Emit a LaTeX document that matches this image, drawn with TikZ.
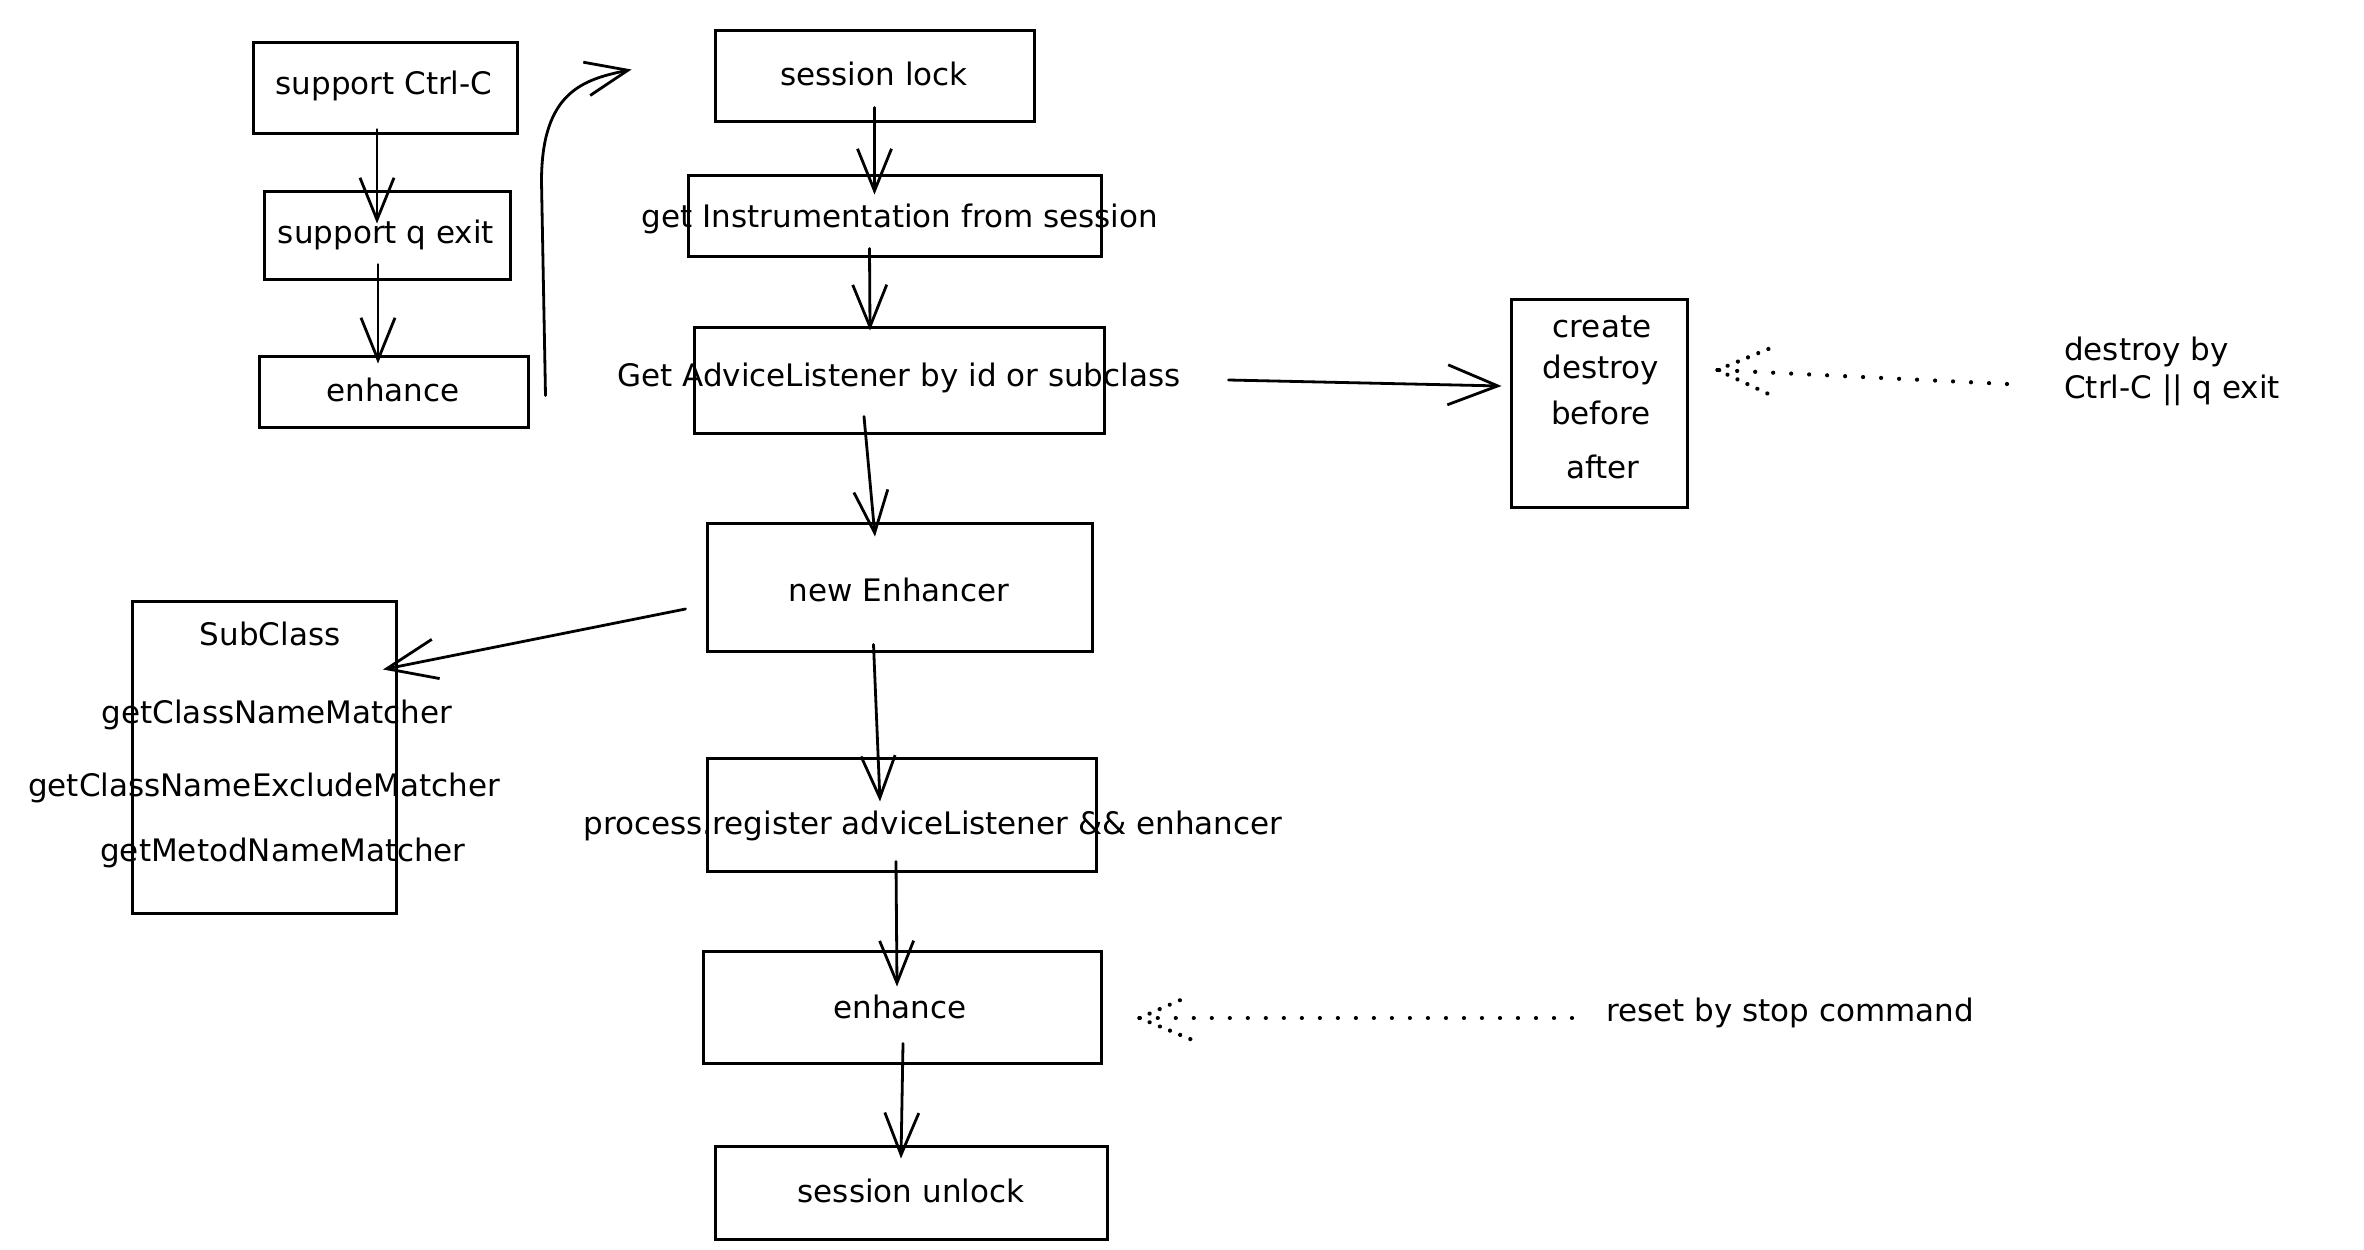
\documentclass[tikz,border=0pt]{standalone}
\usepackage{fontspec}
\setmainfont{DejaVu Sans}
\usetikzlibrary{arrows.meta,calc}
\begin{document}
\begin{tikzpicture}[x=1pt,y=-1pt,
  box/.style={draw, line width=3pt, inner sep=0pt, rectangle},
  lbl/.style={font=\fontsize{31}{38}\selectfont, inner sep=0pt, anchor=center},
  arr/.style={line width=2.8pt, line cap=round, -{Straight Barb[length=42pt,width=34pt]}},
  bigarr/.style={line width=2.8pt, line cap=round, -{Straight Barb[length=50pt,width=40pt]}},
  dotl/.style={line width=4.2pt, dash pattern=on 0.01pt off 18pt, line cap=round},
  dothead/.style={line width=4.2pt, dash pattern=on 0.01pt off 11pt, line cap=round}
]
\fill[white] (0,0) rectangle (2364,1250);
\useasboundingbox (0,0) rectangle (2364,1250);

% left column
\node[box, minimum width=264pt, minimum height=91pt] (sc) at (385,87.5) {};
\node[lbl] (sct) at (384,86) {support Ctrl-C};
\node[box, minimum width=246pt, minimum height=88pt] (sq) at (387,235) {};
\node[lbl] (sqt) at (386,235) {support q exit};
\node[box, minimum width=269pt, minimum height=71pt] (en1) at (393.5,391.5) {};
\node[lbl] (en1t) at (393,390) {enhance};

% main column
\node[box, minimum width=319pt, minimum height=91pt] (sl) at (874.5,75.5) {};
\node[lbl] (slt) at (874,74) {session lock};
\node[box, minimum width=413pt, minimum height=81pt] (gi) at (894.5,215.5) {};
\node[lbl] (git) at (900,219) {get Instrumentation from session};
\node[box, minimum width=410pt, minimum height=106pt] (ga) at (899,380) {};
\node[lbl] (gat) at (899,378) {Get AdviceListener by id or subclass};
\node[box, minimum width=385pt, minimum height=128pt] (ne) at (899.5,587) {};
\node[lbl] (net) at (899,590) {new Enhancer};
\node[box, minimum width=389pt, minimum height=113pt] (pr) at (901.5,814.5) {};
\node[lbl] (prt) at (933,826) {process.register adviceListener \&\& enhancer};
\node[box, minimum width=398pt, minimum height=112pt] (en2) at (902,1007) {};
\node[lbl] (en2t) at (900,1007) {enhance};
\node[box, minimum width=392pt, minimum height=93pt] (su) at (911,1192.5) {};
\node[lbl] (sut) at (911,1191) {session unlock};

% listener box
\node[box, minimum width=176pt, minimum height=208pt] (cd) at (1599,403) {};
\node[lbl] (cd1) at (1602,327) {create};
\node[lbl] (cd2) at (1601,370) {destroy};
\node[lbl] (cd3) at (1601,413) {before};
\node[lbl] (cd4) at (1603,467) {after};
\node[lbl, anchor=west] (dt1) at (2064,352) {destroy by};
\node[lbl, anchor=west] (dt2) at (2064,390) {Ctrl-C || q exit};

% subclass box
\node[box, minimum width=264pt, minimum height=312pt] (sub) at (264.5,757.5) {};
\node[lbl] (sub1) at (270,634) {SubClass};
\node[lbl] (sub2) at (277,715) {getClassNameMatcher};
\node[lbl] (sub3) at (264,788) {getClassNameExcludeMatcher};
\node[lbl] (sub4) at (283,853) {getMetodNameMatcher};

\node[lbl, anchor=west] (rt) at (1606,1013) {reset by stop command};

% arrows
\draw[arr] ($(sc.south)+(-8,-5)$) -- ($(sq.north)+(-10,34)$);
\draw[arr] ($(sq.south)+(-9,-16)$) -- ($(en1.north)+(-15.5,9)$);
\draw[arr] ($(en1.east)+(16,4)$) -- ($(en1.east)+(12,-210)$)
  .. controls ($(en1.east)+(12,-300)$) and ($(sl.west)+(-130,4)$) .. ($(sl.west)+(-82,-6)$);
\draw[arr] ($(sl.south)+(0,-15)$) -- ($(gi.north)+(-20,21)$);
\draw[arr] ($(gi.south)+(-25,-9)$) -- ($(ga.north)+(-29,5)$);
\draw[arr] ($(ga.south)+(-35,-18)$) -- ($(ne.north)+(-24.5,15)$);
\draw[arr] ($(ne.south)+(-26,-8)$) -- ($(pr.north)+(-21.5,45)$);
\draw[bigarr] ($(ne.west)+(-20,22)$) -- ($(sub.east)+(-15,-88)$);
\draw[arr] ($(pr.south)+(-5.5,-11)$) -- ($(en2.north)+(-5,37)$);
\draw[arr] ($(en2.south)+(1,-21)$) -- ($(su.north)+(-10,14)$);
\draw[bigarr] ($(ga.east)+(123,0)$) -- ($(cd.west)+(-8,-17)$);

% dotted arrows
\coordinate (dtip) at ($(cd.east)+(29,-33)$);
\draw[dotl] ($(dt2.west)+(-57,-6)$) -- (dtip);
\draw[dothead] (dtip) -- +(53,-22);
\draw[dothead] (dtip) -- +(51,24);
\coordinate (rtip) at ($(en2.east)+(37,11)$);
\draw[dotl] ($(rt.west)+(-34,5)$) -- (rtip);
\draw[dothead] (rtip) -- +(50,-22);
\draw[dothead] (rtip) -- +(53,22);
\end{tikzpicture}
\end{document}
